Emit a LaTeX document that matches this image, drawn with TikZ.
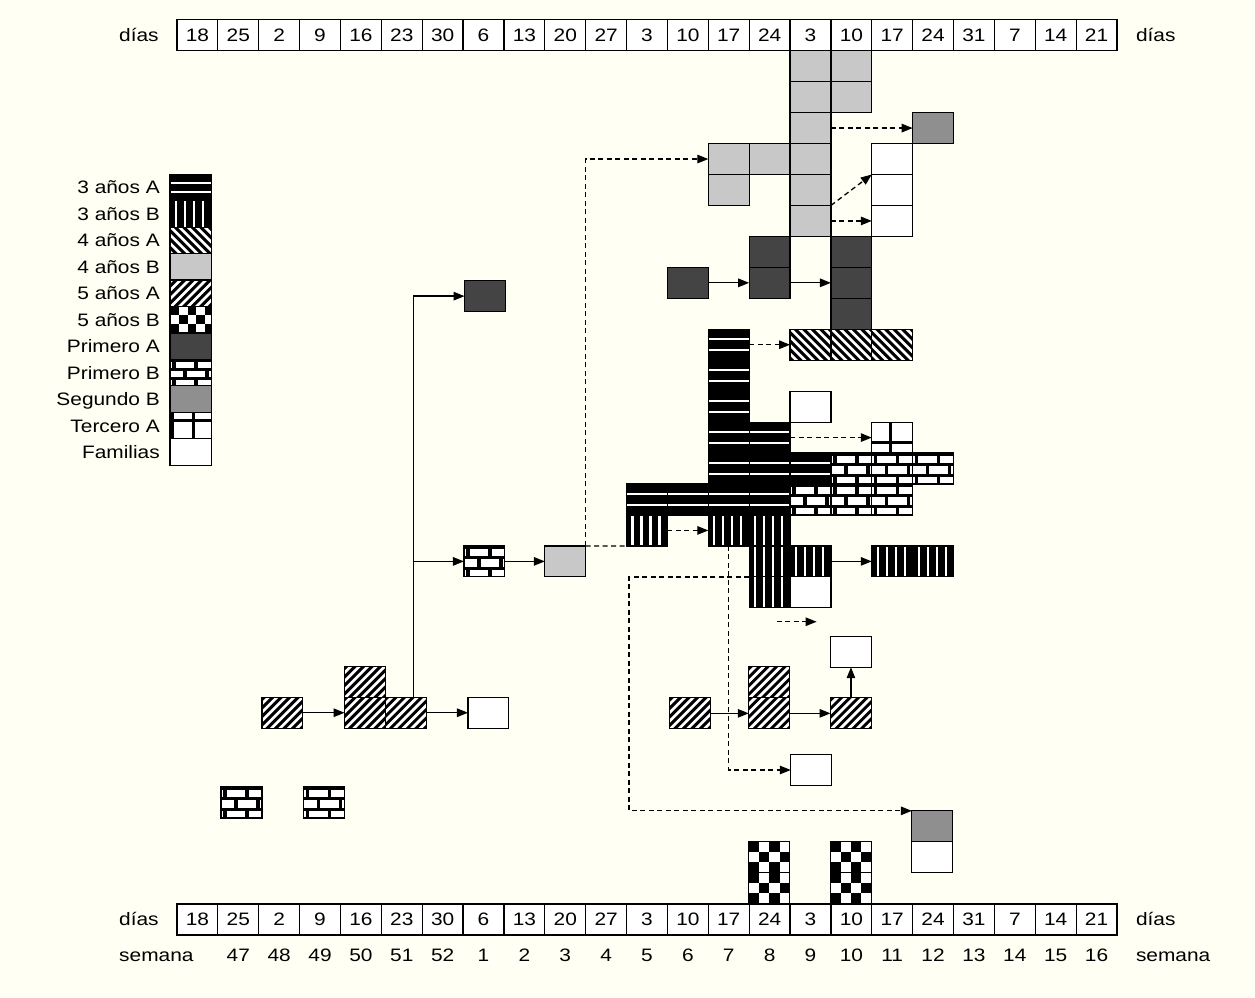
\documentclass[tikz,border=0pt]{standalone}
\usepackage{fontspec}
\setmainfont[FakeStretch=1.16]{Liberation Sans}
\usetikzlibrary{arrows.meta}
\definecolor{bgc}{RGB}{255,255,243}
\definecolor{grayB}{RGB}{200,200,200}
\definecolor{darkA}{RGB}{68,68,68}
\definecolor{graySB}{RGB}{143,143,143}
\newcommand\cw{40.87}
\newcommand\ch{30.95}
\newcommand\cs{10.3}
% pattern drawing: #1 node name, #2 code in local pt coordinates (origin top-left, y down)
\newcommand\pat[2]{\begin{scope}\clip (#1.north west) rectangle (#1.south east);\begin{scope}[shift={(#1.north west)},x=1pt,y=-1pt]#2\end{scope}\end{scope}\draw[line width=1.2pt] (#1.north west) rectangle (#1.south east);}
\newcommand\Patfam[1]{}
\newcommand\PatgB[1]{}
\newcommand\PatpA[1]{}
\newcommand\PatsB[1]{}
\newcommand\PathA[1]{\pat{#1}{\draw[white,line width=2pt] (-1,{0.33*\ch})--({\cw+1},{0.33*\ch}) (-1,{0.68*\ch})--({\cw+1},{0.68*\ch});}}
\newcommand\PatvB[1]{\pat{#1}{\foreach \xx in {6,15,24,33}{\draw[white,line width=2.2pt] (\xx,-1)--(\xx,{\ch+1});}}}
\newcommand\PatdA[1]{\pat{#1}{\foreach \kk in {-7,...,6}{\draw[white,line width=2.7pt] ({\kk*8.5},-1)--++(48,48);}}}
\newcommand\PatdB[1]{\pat{#1}{\foreach \kk in {-7,...,6}{\draw[white,line width=2.7pt] ({\kk*8.5},{\ch+1})--++(48,-48);}}}
\newcommand\Patck[1]{\pat{#1}{\foreach \ii in {0,...,4}{\foreach \jj in {0,...,3}{\pgfmathtruncatemacro\kk{mod(\ii+\jj,2)}\ifnum\kk=0 \fill[black] ({\ii*\cs},{\jj*\cs}) rectangle ++(\cs,\cs);\fi}}}}
\newcommand\PatpB[1]{\pat{#1}{\foreach \rr/\oo in {0/4,1/15,2/4}{\foreach \kk in {-1,0,1,2}{\fill[white] ({\oo+\kk*22+1.6},{\rr*\ch/3+3}) rectangle ({\oo+(\kk+1)*22-1.6},{(\rr+1)*\ch/3});}}}}
\newcommand\PattA[1]{\pat{#1}{\fill[black] ({0.45*\cw-1.35},-1) rectangle ++(2.7,{\ch+2}); \fill[black] (-1,{0.67*\ch-1.35}) rectangle ++({\cw+2},2.7);}}
\newcommand\PattAL[1]{\pat{#1}{\fill[black] ({0.56*\cw-1.35},-1) rectangle ++(2.7,{\ch+2}); \fill[black] (-1,{0.3*\ch-1.35}) rectangle ++({\cw+2},2.7); \fill[black] (-1,-1) rectangle (3.5,{\ch+1});}}
\newcommand\place[3]{\node[#1] (#2) at (#3) {};\csname Pat#1\endcsname{#2}}
\newcommand\gcell[3]{\place{#1}{c#2r#3}{#2+0.5,#3+0.5}}
\tikzset{
 cell/.style={draw=black,line width=1.2pt,minimum width=\cw pt,minimum height=\ch pt,inner sep=0pt,outer sep=0pt,fill=white},
 fam/.style={cell},
 gB/.style={cell,fill=grayB},
 pA/.style={cell,fill=darkA},
 sB/.style={cell,fill=graySB},
 hA/.style={cell,fill=black},
 vB/.style={cell,fill=black},
 dA/.style={cell,fill=black},
 dB/.style={cell,fill=black},
 ck/.style={cell,fill=white},
 pB/.style={cell,fill=black},
 tA/.style={cell,fill=white},
 tAL/.style={cell,fill=white},
 hdr/.style={cell,text height=12.9pt,text depth=0pt},
 txt/.style={inner sep=0pt,text height=12.9pt,text depth=0pt},
 arr/.style={line width=1.3pt,-{Triangle[length=11pt,width=8.5pt]}},
 darr/.style={arr,dash pattern=on 5pt off 3.5pt},
 dline/.style={line width=1.3pt,dash pattern=on 5pt off 3.5pt}
}
\begin{document}
\begin{tikzpicture}[x=40.87pt,y=-30.95pt,every node/.style={font=\fontsize{18}{22}\selectfont}]
\useasboundingbox[fill=bgc] (-177pt,19.75pt) rectangle (1078pt,-977.25pt);
% headers
\foreach \d [count=\i from 0] in {18,25,2,9,16,23,30,6,13,20,27,3,10,17,24,3,10,17,24,31,7,14,21} {
  \node[hdr] (t\i) at (\i+0.5,0.5) {\d};
  \node[hdr] (b\i) at (\i+0.5,29.07) {\d};
}
\node[txt,anchor=west] (tl) at (-1.419,0.5) {días};
\node[txt,anchor=west] (tr) at (23.46,0.5) {días};
\node[txt,anchor=west] (bl) at (-1.419,29.07) {días};
\node[txt,anchor=west] (br) at (23.46,29.07) {días};
\node[txt,anchor=west] (sl) at (-1.419,30.22) {semana};
\node[txt,anchor=west] (sr) at (23.46,30.22) {semana};
\foreach \w [count=\i] in {47,48,49,50,51,52,1,2,3,4,5,6,7,8,9,10,11,12,13,14,15,16} {
  \node[txt] (s\i) at (\i+0.5,30.22) {\w};
}
% legend
\begin{scope}
\renewcommand\ch{26.45}\renewcommand\cw{41.7}\renewcommand\cs{8.8}
\place{hA}{L0}{0.339,5.4200}   \node[txt,anchor=east] (T0) at (-0.416,5.4200) {3 años A};
\place{vB}{L1}{0.339,6.2746}   \node[txt,anchor=east] (T1) at (-0.416,6.2746) {3 años B};
\place{dA}{L2}{0.339,7.1292}   \node[txt,anchor=east] (T2) at (-0.416,7.1292) {4 años A};
\place{gB}{L3}{0.339,7.9838}   \node[txt,anchor=east] (T3) at (-0.416,7.9838) {4 años B};
\place{dB}{L4}{0.339,8.8384}   \node[txt,anchor=east] (T4) at (-0.416,8.8384) {5 años A};
\place{ck}{L5}{0.339,9.6930}   \node[txt,anchor=east] (T5) at (-0.416,9.6930) {5 años B};
\place{pA}{L6}{0.339,10.5476}  \node[txt,anchor=east] (T6) at (-0.416,10.5476) {Primero A};
\place{pB}{L7}{0.339,11.4022}  \node[txt,anchor=east] (T7) at (-0.416,11.4022) {Primero B};
\place{sB}{L8}{0.339,12.2568}  \node[txt,anchor=east] (T8) at (-0.416,12.2568) {Segundo B};
\place{tAL}{L9}{0.339,13.1114} \node[txt,anchor=east] (T9) at (-0.416,13.1114) {Tercero A};
\place{fam}{L10}{0.339,13.9660}\node[txt,anchor=east] (T10) at (-0.416,13.9660) {Familias};
\end{scope}
% top cluster
\foreach \r in {1,...,6} {\gcell{gB}{15}{\r}}
\gcell{gB}{16}{1}\gcell{gB}{16}{2}\gcell{gB}{13}{4}\gcell{gB}{13}{5}\gcell{gB}{14}{4}
\gcell{sB}{18}{3}
\gcell{fam}{17}{4}\gcell{fam}{17}{5}\gcell{fam}{17}{6}
\gcell{pA}{14}{7}\gcell{pA}{14}{8}\gcell{pA}{16}{7}\gcell{pA}{16}{8}\gcell{pA}{16}{9}\gcell{pA}{12}{8}
\gcell{dA}{15}{10}\gcell{dA}{16}{10}\gcell{dA}{17}{10}
\foreach \r in {10,...,15} {\gcell{hA}{13}{\r}}
\gcell{hA}{14}{13}\gcell{hA}{14}{14}\gcell{hA}{14}{15}\gcell{hA}{15}{14}\gcell{hA}{11}{15}\gcell{hA}{12}{15}
\gcell{vB}{13}{16}\gcell{vB}{14}{16}\gcell{vB}{11}{16}\gcell{vB}{14}{17}\gcell{vB}{15}{17}\gcell{vB}{14}{18}\gcell{vB}{17}{17}\gcell{vB}{18}{17}
\gcell{fam}{15}{12}\gcell{fam}{15}{18}
\gcell{tA}{17}{13}
\gcell{pB}{15}{15}\gcell{pB}{16}{14}\gcell{pB}{16}{15}\gcell{pB}{17}{14}\gcell{pB}{17}{15}\gcell{pB}{18}{14}
% left part
\place{pA}{n1}{7.536,8.93}
\place{pB}{c7r17}{7.52,17.5}
\place{gB}{c9r17}{9.5,17.5}
\place{dB}{l5a}{2.58,22.39}
\place{dB}{l5b1}{4.6,21.39}
\place{dB}{l5b2}{4.6,22.39}
\place{dB}{l5c}{5.6,22.39}
\place{fam}{lfam}{7.62,22.39}
\place{pB}{lb1}{1.578,25.29}
\place{pB}{lb2}{3.6,25.29}
% lower right
\place{dB}{r5a}{12.55,22.41}
\place{dB}{r5b1}{14.49,21.40}
\place{dB}{r5b2}{14.49,22.41}
\place{dB}{r5c}{16.49,22.41}
\place{fam}{rfamC}{16.49,20.42}
\place{fam}{rfam1}{15.518,24.24}
\place{sB}{segB}{18.48,26.06}
\place{fam}{segF}{18.48,27.06}
\place{ck}{chk1a}{14.49,27.05}
\place{ck}{chk1b}{14.49,28.05}
\place{ck}{chk2a}{16.49,27.05}
\place{ck}{chk2b}{16.49,28.05}
% connectors
\draw[arr] (c12r8.east) -- (c14r8.west);
\draw[arr] (c14r8.east) -- (c16r8.west);
\draw[darr] (c15r3.east) -- (c18r3.west);
\draw[darr] (c15r6.north east) -- (c17r5.north west);
\draw[darr] (c15r6.east) -- (c17r6.west);
\draw[darr] (c9r17.north east) |- (c13r4.west);
\draw[dline] (c9r17.north east) -- (c11r16.south west);
\draw[darr] (c13r10.east) -- (c15r10.west);
\draw[darr] (c14r13.east) -- (c17r13.west);
\draw[darr] (c11r16.east) -- (c13r16.west);
\draw[arr] (c15r17.east) -- (c17r17.west);
\draw[darr] (c13r16.south) |- (rfam1.west);
\coordinate (v2) at (11.06,18);
\draw[darr] (c14r18.north west) -- (v2) |- (segB.north west);
\coordinate (fa) at (14.67,19.45);
\coordinate (fb) at (15.65,19.45);
\draw[darr] (fa) -- (fb);
\draw[arr] (r5a.east) -- (r5b2.west);
\draw[arr] (r5b2.east) -- (r5c.west);
\draw[arr] (r5c.north) -- (rfamC.south);
\draw[arr] (l5a.east) -- (l5b2.west);
\draw[arr] (l5c.east) -- (lfam.west);
\coordinate (v1) at (5.79,21.89);
\draw[arr] (v1) |- (n1.west);
\draw[arr] (v1 |- c7r17.west) -- (c7r17.west);
\draw[arr] (c7r17.east) -- (c9r17.west);
\end{tikzpicture}
\end{document}
